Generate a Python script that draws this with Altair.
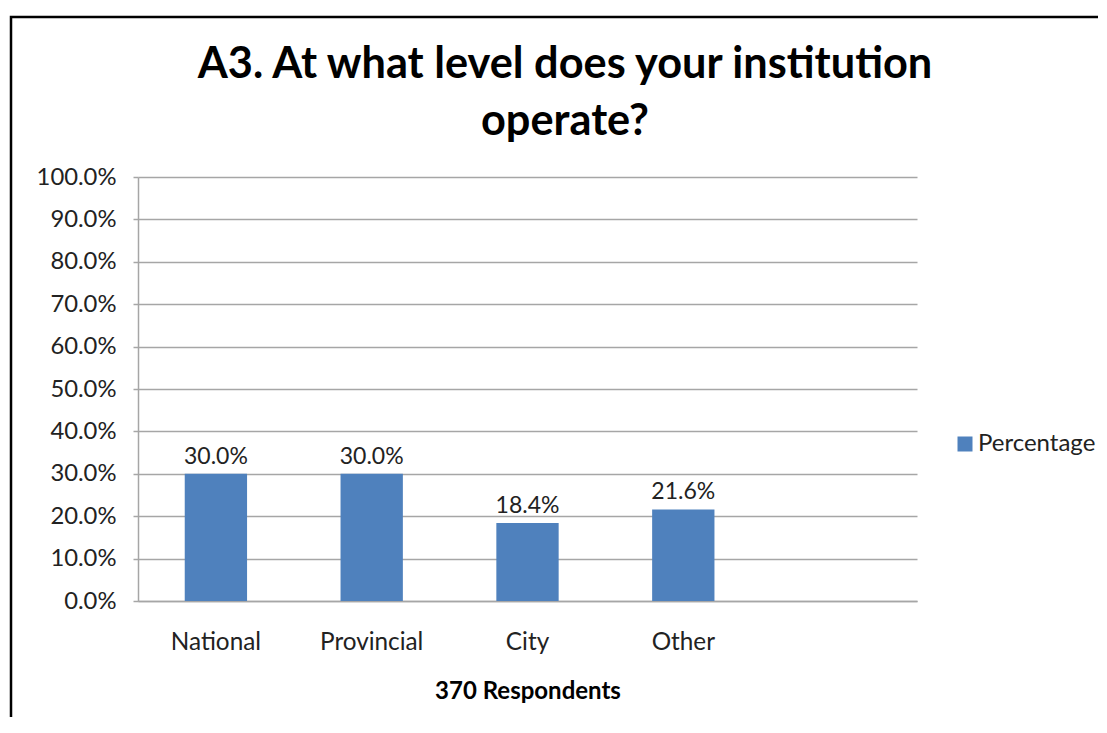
import altair as alt
import pandas as pd

categories = ["National", "Provincial", "City", "Other"]
slots = ["National", "Provincial", "City", "Other", " "]
values = [0.300, 0.300, 0.184, 0.216]
series_name = "Percentage"
title_lines = ["A3. At what level does your institution", "operate?"]
x_title = "370 Respondents"
y_ticks = [0.0, 0.1, 0.2, 0.3, 0.4, 0.5, 0.6, 0.7, 0.8, 0.9, 1.0]

bars_df = pd.DataFrame({"level": categories, "pct": values, "series": [series_name] * len(categories)})
one = pd.DataFrame({"k": [0]})

FONT = "Lato"
BLUE = "#4F81BD"
GRID = "#a6a6a6"

x_enc = alt.X(
    "level:N",
    sort=slots,
    scale=alt.Scale(domain=slots, paddingInner=0.6, paddingOuter=0.3),
    axis=alt.Axis(
        title=x_title, titleFont=FONT, titleFontSize=24, titleFontWeight="bold", titleColor="#000",
        titlePadding=25, labelFont=FONT, labelFontSize=24.3, labelColor="#222", labelPadding=29,
        labelAngle=0, ticks=False, domainColor=GRID, domainWidth=1.5,
    ),
)
y_enc = alt.Y(
    "pct:Q",
    scale=alt.Scale(domain=[0, 1], nice=False),
    axis=alt.Axis(
        title=None, values=y_ticks, format=".1%", labelFont=FONT, labelFontSize=23.8, labelColor="#222",
        labelPadding=17, tickSize=5, tickColor=GRID, domainColor=GRID, gridColor=GRID, grid=True,
        domainWidth=1.5, tickWidth=1.5, gridWidth=1.5,
    ),
)

bars = alt.Chart(bars_df).mark_bar(color=BLUE).encode(
    x=x_enc,
    y=y_enc,
    color=alt.Color(
        "series:N",
        scale=alt.Scale(domain=[series_name], range=[BLUE]),
        legend=alt.Legend(
            orient="none", legendX=815, legendY=255, title=None, symbolType="square", symbolSize=225,
            symbolStrokeWidth=0, labelFont=FONT, labelFontSize=24, labelColor="#222", labelOffset=1,
        ),
    ),
)

labels = alt.Chart(bars_df).mark_text(
    font=FONT, fontSize=23, color="#222", baseline="alphabetic", dy=-10
).encode(x=alt.X("level:N", sort=slots), y="pct:Q", text=alt.Text("pct:Q", format=".1%"))

t1 = alt.Chart(one).mark_text(
    font=FONT, fontSize=43.3, fontWeight="bold", color="#000", align="center", baseline="alphabetic"
).encode(x=alt.value(427), y=alt.value(-99), text=alt.value(title_lines[0]))
t2 = alt.Chart(one).mark_text(
    font=FONT, fontSize=43.3, fontWeight="bold", color="#000", align="center", baseline="alphabetic"
).encode(x=alt.value(427), y=alt.value(-42), text=alt.value(title_lines[1]))

frame = alt.Chart(one).mark_rect(fill=None, stroke="#000", strokeWidth=2.5).encode(
    x=alt.value(-127), x2=alt.value(1100), y=alt.value(-160), y2=alt.value(800)
)

chart = alt.layer(frame, bars, labels, t1, t2).properties(
    width=779, height=424,
    padding={"left": 130, "top": 169, "right": 181, "bottom": 116},
    autosize=alt.AutoSizeParams(type="none"),
    background="white",
).configure_view(stroke=None)

chart.save("out.html", embed_options={"renderer": "svg", "actions": False})
